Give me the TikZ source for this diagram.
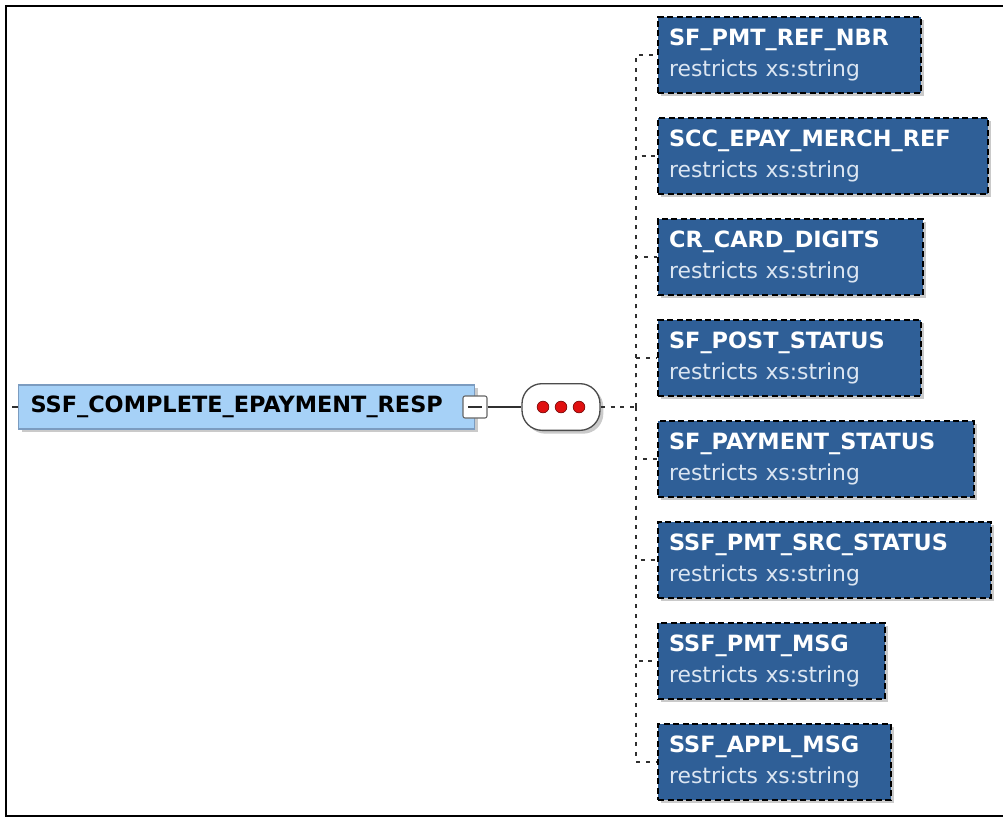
\documentclass[tikz,border=0pt]{standalone}
\usepackage{fontspec}
\setmainfont{DejaVu Sans}
\usetikzlibrary{shadows}
\definecolor{rootfill}{HTML}{A6D1F7}
\definecolor{rootline}{HTML}{7C9CC0}
\definecolor{elemfill}{HTML}{2F5F97}
\definecolor{subtxt}{HTML}{DCE6F2}
\definecolor{wire}{HTML}{303030}
\definecolor{dotred}{HTML}{E01010}
\definecolor{dotline}{HTML}{7A0A0A}
\newcommand{\elfont}{\fontsize{16.8}{23}\selectfont}
\newcommand{\elsub}{\fontsize{16.4}{23}\selectfont\mdseries\color{subtxt}}

\begin{document}
\begin{tikzpicture}[x=0.75pt,y=-0.75pt,font=\elfont,
  shade/.style={drop shadow={shadow xshift=2.5pt,shadow yshift=-2.5pt,fill=black!35,opacity=0.6}},
  elem/.style={shade,fill=elemfill,preaction={draw=white,line width=1.6pt},draw=black,line width=1.6pt,
    dash pattern=on 4.5pt off 2.6pt,anchor=west,inner xsep=8.25pt,inner ysep=0pt,minimum height=57pt,
    text width=#1,align=left,text=white},
  branch/.style={wire,line width=1.4pt,dash pattern=on 3pt off 4.4pt}]
\useasboundingbox (0,0) rectangle (1003,818);
\draw[line width=1.5pt] (1003,6) -- (6,6) -- (6,816) -- (1003,816);

% root element
\node[shade,fill=rootfill,draw=rootline,line width=0.8pt,anchor=west,inner xsep=9pt,inner ysep=0pt,
  minimum height=33pt,text width=324pt,align=left] (root) at (18,407) {\bfseries SSF\_COMPLETE\_EPAYMENT\_RESP};
\coordinate (rootin) at (12,407);
\draw[wire,line width=1.1pt] (rootin) -- (root.west);
\node[fill=white,draw=black!60,line width=0.8pt,rounded corners=1.5pt,minimum width=18pt,minimum height=16.5pt,inner sep=0] (collapse) at (475,407) {};
\draw[wire,line width=1pt] ([xshift=-5pt]collapse.center) -- ([xshift=5pt]collapse.center);

% sequence compositor
\node[shade,fill=white,draw=black!70,line width=1pt,rounded corners=15pt,minimum width=58.5pt,minimum height=35pt,inner sep=0] (seq) at (561,407) {};
\fill[dotred,draw=dotline,line width=0.5pt] ([xshift=-13.5pt]seq.center) circle (4.4pt);
\fill[dotred,draw=dotline,line width=0.5pt] (seq.center) circle (4.4pt);
\fill[dotred,draw=dotline,line width=0.5pt] ([xshift=13.5pt]seq.center) circle (4.4pt);
\draw[wire,line width=1.1pt] (collapse.east) -- (seq.west);
\coordinate (hub) at (636,407);
\draw[branch] (seq.east) -- (hub);

% child elements
\node[elem=180.75pt] (pmtref) at (657,55) {\bfseries SF\_PMT\_REF\_NBR\\{\elsub restricts xs:string}};
\node[elem=231pt] (merchref) at (657,156) {\bfseries SCC\_EPAY\_MERCH\_REF\\{\elsub restricts xs:string}};
\node[elem=182.25pt] (carddig) at (657,257) {\bfseries CR\_CARD\_DIGITS\\{\elsub restricts xs:string}};
\node[elem=180.75pt] (poststat) at (657,358) {\bfseries SF\_POST\_STATUS\\{\elsub restricts xs:string}};
\node[elem=220.5pt] (paystat) at (657,459) {\bfseries SF\_PAYMENT\_STATUS\\{\elsub restricts xs:string}};
\node[elem=233.25pt] (srcstat) at (657,560) {\bfseries SSF\_PMT\_SRC\_STATUS\\{\elsub restricts xs:string}};
\node[elem=153.75pt] (pmtmsg) at (657,661) {\bfseries SSF\_PMT\_MSG\\{\elsub restricts xs:string}};
\node[elem=158.25pt] (applmsg) at (657,762) {\bfseries SSF\_APPL\_MSG\\{\elsub restricts xs:string}};

\draw[branch] (hub) |- (pmtref.west);
\draw[branch] (hub) |- (merchref.west);
\draw[branch] (hub) |- (carddig.west);
\draw[branch] (hub) |- (poststat.west);
\draw[branch] (hub) |- (paystat.west);
\draw[branch] (hub) |- (srcstat.west);
\draw[branch] (hub) |- (pmtmsg.west);
\draw[branch] (hub) |- (applmsg.west);
\end{tikzpicture}
\end{document}
